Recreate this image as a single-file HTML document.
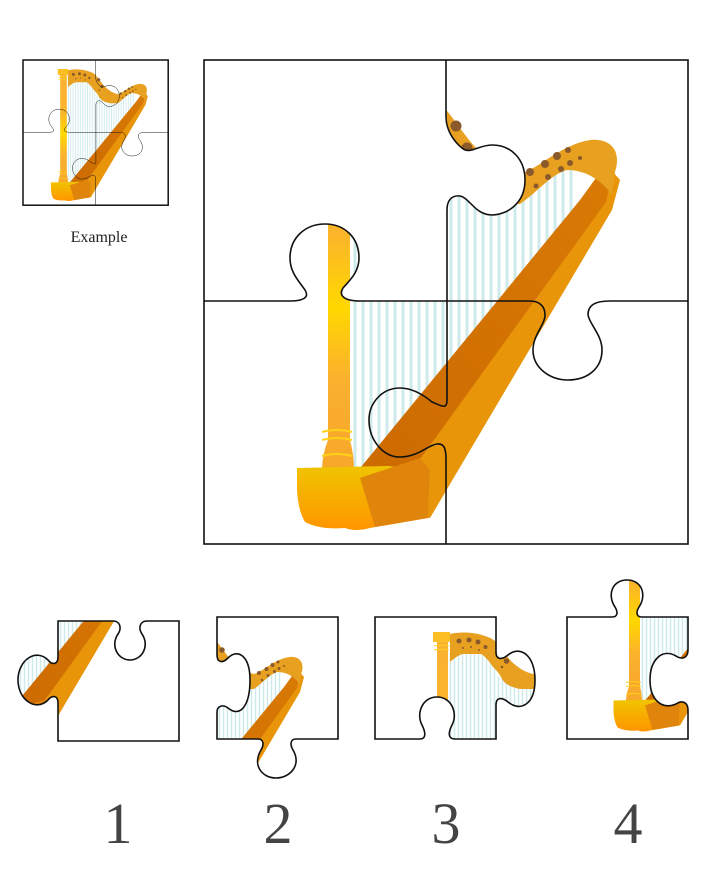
<!DOCTYPE html>
<html><head><meta charset="utf-8"><style>
html,body{margin:0;padding:0;background:#fff;width:725px;height:886px;overflow:hidden}
svg{position:absolute;left:0;top:0}
</style></head><body>
<svg width="725" height="886" viewBox="0 0 725 886" xmlns="http://www.w3.org/2000/svg">
<defs>
<linearGradient id="pil" x1="0" y1="0" x2="0" y2="1">
<stop offset="0" stop-color="#f9b233"/><stop offset="0.35" stop-color="#fbb52a"/><stop offset="0.55" stop-color="#ffd800"/><stop offset="0.75" stop-color="#fbb02e"/><stop offset="1" stop-color="#f7a72a"/></linearGradient>
<linearGradient id="bas" x1="0" y1="0" x2="0" y2="1">
<stop offset="0" stop-color="#f0c400"/><stop offset="1" stop-color="#ff9500"/></linearGradient>
<linearGradient id="brd" x1="0" y1="1" x2="1" y2="0">
<stop offset="0" stop-color="#cc6a00"/><stop offset="1" stop-color="#d97a05"/></linearGradient>
<g id="harp">
 <g stroke="#cfeaea" stroke-width="3">
  <line x1="355" y1="130" x2="355" y2="482"/><line x1="363" y1="130" x2="363" y2="472"/>
  <line x1="371" y1="130" x2="371" y2="462"/><line x1="379" y1="130" x2="379" y2="452"/>
  <line x1="387" y1="130" x2="387" y2="442"/><line x1="395" y1="130" x2="395" y2="432"/>
  <line x1="403" y1="130" x2="403" y2="422"/><line x1="411" y1="130" x2="411" y2="412"/>
  <line x1="419" y1="130" x2="419" y2="402"/><line x1="427" y1="130" x2="427" y2="392"/>
  <line x1="435" y1="130" x2="435" y2="382"/><line x1="443" y1="130" x2="443" y2="372"/>
  <line x1="451" y1="180" x2="451" y2="362"/><line x1="459" y1="180" x2="459" y2="352"/>
  <line x1="467" y1="185" x2="467" y2="342"/><line x1="475" y1="185" x2="475" y2="332"/>
  <line x1="483" y1="185" x2="483" y2="322"/><line x1="491" y1="185" x2="491" y2="312"/>
  <line x1="499" y1="185" x2="499" y2="302"/><line x1="507" y1="185" x2="507" y2="292"/>
  <line x1="515" y1="185" x2="515" y2="282"/><line x1="523" y1="185" x2="523" y2="272"/>
  <line x1="531" y1="185" x2="531" y2="262"/><line x1="539" y1="180" x2="539" y2="252"/>
  <line x1="547" y1="175" x2="547" y2="242"/><line x1="555" y1="170" x2="555" y2="232"/>
  <line x1="563" y1="170" x2="563" y2="222"/><line x1="571" y1="170" x2="571" y2="212"/>
 </g>
 <path d="M352,478 L580,200 L596,178 L612,172 L606,205 L405,480 Z" fill="url(#brd)"/>
 <path d="M405,480 L606,202 L613,172 L620,180 L612,210 L430,518 L412,516 Z" fill="#e8950a"/>
 <path d="M354,94 C380,88 410,92 430,100 C440,104 444,108 448,112 C458,125 468,140 478,150 C495,165 505,170 520,174 C540,168 560,145 590,140 C610,138 622,150 615,172 L612,195 C605,185 590,170 567,170 C550,175 540,190 520,204 L494,204 C475,200 465,195 458,184 C452,172 448,168 440,160 C430,145 420,134 414,134 L380,134 C370,136 360,145 354,150 Z" fill="#e8a020"/>
 <g fill="#8b5a2b">
  <circle cx="456" cy="126" r="5.5"/><circle cx="467" cy="148" r="5.5"/><circle cx="458" cy="160" r="2.5"/>
  <circle cx="372" cy="108" r="5"/><circle cx="392" cy="106" r="5"/><circle cx="410" cy="110" r="5"/><circle cx="425" cy="120" r="4"/>
  <circle cx="380" cy="122" r="2"/><circle cx="396" cy="120" r="2"/><circle cx="412" cy="126" r="2"/>
  <circle cx="530" cy="172" r="4"/><circle cx="545" cy="164" r="4"/><circle cx="557" cy="156" r="4"/>
  <circle cx="568" cy="150" r="3"/><circle cx="570" cy="163" r="3"/><circle cx="561" cy="169" r="3"/>
  <circle cx="548" cy="177" r="3"/><circle cx="536" cy="186" r="2.5"/><circle cx="580" cy="158" r="2"/>
 </g>
 <path d="M328,108 L350,108 L350,440 Q354,455 354,470 L322,470 Q322,455 328,440 Z" fill="url(#pil)"/>
 <rect x="320" y="90" width="34" height="20" fill="#fbbf24"/>
 <g stroke="#ffd21a" stroke-width="2" fill="none"><path d="M322,432 Q337,428 352,432"/><path d="M322,440 Q337,436 352,440"/><path d="M322,456 Q337,452 352,456"/><path d="M322,118 Q337,114 352,118"/><path d="M322,126 Q337,122 352,126"/></g>
 <path d="M297,468 L388,466 L430,470 L428,518 L370,528 Q355,532 345,528 Q320,530 305,522 Q298,510 297,490 Z" fill="url(#bas)"/>
 <path d="M360,478 L420,458 L430,470 L428,518 L375,527 Z" fill="#e0850c"/>
</g>
<path id="lines" fill="none" stroke="#111" stroke-width="1.6" d="M446,60 L446,117 C446,128 452,140 462,148 C470,155 478,145 492,145 C512,145 525,160 525,180 C525,205 505,215 492,215 C475,215 470,198 460,196 C452,195 447,200 447,210 L447,400 C447,410 442,406 432,402 C420,392 410,388 400,388 C382,388 369,403 369,420 C369,440 383,457 400,457 C418,457 428,445 437,444 C445,443 446,450 446,460 L446,544 M204,301 L290,301 C302,301 310,298 305,290 C298,280 290,272 290,258 C290,238 305,224 325,224 C345,224 359,238 359,258 C359,272 350,280 343,288 C338,296 345,301 360,301 L530,301 C538,301 545,305 545,315 C545,325 533,335 533,350 C533,368 550,380 568,380 C588,380 602,368 602,350 C602,335 590,325 588,315 C588,305 595,301 610,301 L688,301"/>
<clipPath id="c1"><path id="p1" d="M58,621 L113,621 C120,621 122,628 118,634 C110,646 118,660 130,660 C142,660 150,646 142,634 C138,628 140,621 147,621 L179,621 L179,741 L58,741 L58,703 C58,695 52,695 48,700 C36,712 18,700 18,680 C18,660 36,648 48,660 C52,665 58,665 58,657 Z"/></clipPath>
<clipPath id="c2"><path id="p2" d="M217,617 L338,617 L338,739 L296,739 C290,739 290,745 293,750 C302,765 290,778 276,778 C262,778 252,765 261,750 C264,745 264,739 258,739 L217,739 L217,712 C217,706 223,704 228,708 C240,718 250,706 250,680 C250,656 238,648 228,658 C222,664 217,662 217,655 Z"/></clipPath>
<clipPath id="c3"><path id="p3" d="M375,617 L496,617 L496,652 C496,660 502,660 508,655 C520,645 535,655 535,680 C535,705 520,712 508,702 C502,697 496,697 496,705 L496,739 L455,739 C448,739 448,733 452,725 C458,714 452,697 437,697 C422,697 416,714 422,725 C426,733 426,739 420,739 L375,739 Z"/></clipPath>
<clipPath id="c4"><path id="p4" d="M567,617 L612,617 C618,617 618,612 615,607 C607,595 612,580 627,580 C642,580 647,595 639,607 C636,612 636,617 642,617 L688,617 L688,650 C688,658 682,660 676,656 C662,648 650,660 650,680 C650,700 662,710 676,704 C682,700 688,702 688,710 L688,739 L567,739 Z"/></clipPath>
<clipPath id="cex"><rect x="23" y="60" width="146" height="146"/></clipPath>
</defs>

<use href="#harp"/>
<path fill="#fff" d="M204,60 L446,60 L446,117 C446,128 452,140 462,148 C470,155 478,145 492,145 C512,145 525,160 525,180 C525,205 505,215 492,215 C475,215 470,198 460,196 C452,195 447,200 447,210 L447,301 L360,301 C345,301 338,296 343,288 C350,280 359,272 359,258 C359,238 345,224 325,224 C305,224 290,238 290,258 C290,272 298,280 305,290 C310,298 302,301 290,301 L204,301 Z"/>
<rect x="204" y="60" width="484" height="484" fill="none" stroke="#111" stroke-width="1.6"/>
<use href="#lines"/>

<g clip-path="url(#cex)"><g transform="translate(-38.2,42) scale(0.3)"><use href="#harp"/></g></g>
<g transform="translate(-38.2,42) scale(0.3)"><use href="#lines" style="vector-effect:non-scaling-stroke"/>
<rect x="204" y="60" width="484" height="484" fill="none" stroke="#111" stroke-width="5"/></g>
<text x="99" y="242" font-family="Liberation Serif, serif" font-size="16" text-anchor="middle" fill="#222">Example</text>

<g clip-path="url(#c1)"><g transform="translate(-165,470.5) scale(0.5)"><use href="#harp"/></g></g>
<use href="#p1" fill="none" stroke="#111" stroke-width="1.6"/>
<g clip-path="url(#c2)"><g transform="translate(-6,587) scale(0.5)"><use href="#harp"/></g></g>
<use href="#p2" fill="none" stroke="#111" stroke-width="1.6"/>
<g clip-path="url(#c3)"><g transform="translate(273,587) scale(0.5)"><use href="#harp"/></g></g>
<use href="#p3" fill="none" stroke="#111" stroke-width="1.6"/>
<g clip-path="url(#c4)"><g transform="translate(465,466.5) scale(0.5)"><use href="#harp"/></g></g>
<use href="#p4" fill="none" stroke="#111" stroke-width="1.6"/>

<g font-family="Liberation Serif, serif" font-size="58" fill="#444" text-anchor="middle">
<text x="118" y="843">1</text><text x="278" y="843">2</text><text x="446" y="843">3</text><text x="628" y="843">4</text>
</g>
</svg>
</body></html>
